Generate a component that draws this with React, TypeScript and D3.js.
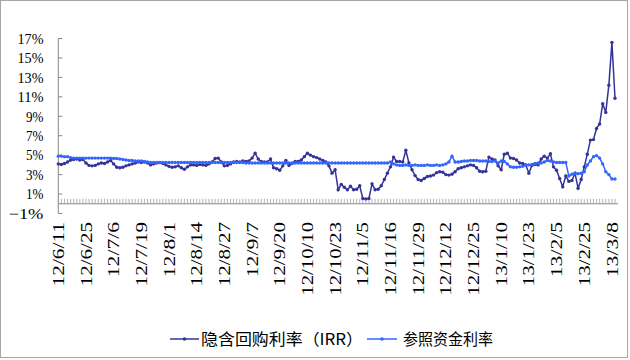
import React from "react";
import * as d3 from "d3";

const tickLabels = ["12/6/11","12/6/25","12/7/6","12/7/19","12/8/1","12/8/14","12/8/27","12/9/7","12/9/20","12/10/10","12/10/23","12/11/5","12/11/16","12/11/29","12/12/12","12/12/25","13/1/10","13/1/23","13/2/5","13/2/25","13/3/8"];
const yTicks = [-1,1,3,5,7,9,11,13,15,17];
const seriesNames = ["隐含回购利率（IRR）","参照资金利率"];

const irr = [
4.1,4.05,4.15,4.3,4.5,4.55,4.6,4.5,4.55,4.2,
3.95,3.9,3.95,4.1,4.2,4.15,4.3,4.45,4.1,3.75,
3.7,3.75,3.9,4.0,4.1,4.2,4.3,4.25,4.3,4.2,
4.0,4.1,4.2,4.25,4.15,4.0,3.85,3.75,3.8,3.9,
3.7,3.55,3.8,4.0,4.0,3.95,4.05,4.0,3.95,4.1,
4.3,4.65,4.7,4.3,3.9,3.95,4.1,4.3,4.35,4.3,
4.4,4.35,4.4,4.7,5.2,4.6,4.35,4.3,4.3,4.6,
3.7,3.6,3.45,3.9,4.45,3.95,4.15,4.35,4.35,4.5,
4.85,5.2,5.0,4.85,4.75,4.6,4.45,4.3,3.9,3.15,
3.5,1.45,2.0,1.7,1.45,1.8,1.45,1.5,1.85,0.55,
0.5,0.55,2.05,1.45,1.5,1.85,2.5,3.15,3.8,4.8,
4.35,4.35,4.3,5.5,4.2,3.5,2.9,2.5,2.4,2.6,
2.8,2.85,2.95,3.2,3.3,3.25,3.0,2.95,3.05,3.3,
3.6,3.7,3.8,3.9,4.0,3.95,3.7,3.35,3.3,3.35,
4.8,4.6,4.5,3.9,3.5,5.1,5.2,4.7,4.65,4.5,
4.2,4.15,4.0,3.15,3.95,4.05,4.0,4.6,4.9,4.7,
5.15,3.8,3.45,2.6,1.75,2.85,2.3,2.4,3.15,1.6,
2.5,3.8,5.1,6.55,6.6,7.75,8.2,10.3,9.4,12.2,
16.6,10.85
];

const ref = [
4.9,4.9,4.85,4.85,4.75,4.7,4.7,4.7,4.7,4.7,
4.7,4.7,4.7,4.7,4.7,4.7,4.7,4.7,4.65,4.65,
4.6,4.55,4.5,4.45,4.45,4.4,4.4,4.4,4.35,4.3,
4.25,4.25,4.25,4.25,4.25,4.25,4.25,4.25,4.25,4.25,
4.25,4.25,4.25,4.25,4.25,4.25,4.25,4.25,4.25,4.25,
4.25,4.25,4.25,4.25,4.25,4.25,4.25,4.25,4.25,4.25,
4.25,4.2,4.2,4.2,4.2,4.2,4.2,4.2,4.2,4.2,
4.2,4.2,4.2,4.2,4.2,4.2,4.2,4.2,4.2,4.2,
4.2,4.2,4.2,4.2,4.2,4.2,4.2,4.2,4.2,4.2,
4.2,4.2,4.2,4.2,4.2,4.2,4.2,4.2,4.2,4.2,
4.2,4.2,4.2,4.2,4.2,4.2,4.2,4.2,4.3,4.1,
4.0,3.95,3.95,4.0,3.95,3.95,4.0,3.95,3.95,3.95,
4.0,3.95,3.95,4.0,3.95,4.0,4.1,4.3,4.9,4.3,
4.3,4.35,4.4,4.4,4.45,4.45,4.45,4.4,4.4,4.4,
4.35,4.35,4.4,4.2,4.4,4.35,4.1,3.8,3.75,3.75,
3.8,3.85,4.0,4.0,4.05,4.15,4.2,4.2,4.3,4.45,
4.4,4.3,4.25,4.25,4.25,4.25,2.85,3.05,3.1,3.1,
3.15,3.3,4.0,4.4,4.85,4.95,4.7,4.1,3.3,3.0,
2.55,2.55
];

const colors = ["#333399", "#3366FF"];

export default function App() {
  const W = 630, H = 360;
  const x = d3.scaleLinear().domain([0, irr.length - 1]).range([58.3, 615]);
  const y = d3.scaleLinear().domain([-1, 17]).range([213.5, 38.5]);
  const y0 = y(0);
  const line = d3.line<number>().x((_, i) => x(i)).y((d) => y(d));
  const series = [irr, ref];
  const axisColor = "#868686";
  const num = "'Liberation Serif', 'DejaVu Serif', serif";
  const cjk = "'Noto Sans CJK SC', sans-serif";
  const fmt = (t: number) => (t < 0 ? "\u2212" + Math.abs(t) : String(t)) + "%";

  return (
    <svg width={W} height={H} style={{ position: "absolute", left: 0, top: 0, background: "#fff" }}>
      <rect x={0.5} y={0.5} width={627} height={357} fill="#fff" stroke="#a6a6a6" />
      {/* y axis */}
      <line x1={x(0)} x2={x(0)} y1={y(-1)} y2={y(17)} stroke={axisColor} />
      {yTicks.map((t) => (
        <g key={t}>
          <line x1={x(0)} x2={x(0) + 4} y1={y(t)} y2={y(t)} stroke={axisColor} />
          <text x={43.5} y={y(t)} dy="0.35em" textAnchor="end" fontFamily={num} fontSize={15}
            textLength={t < 0 ? 35 : t >= 10 ? 26 : 17.5} lengthAdjust="spacingAndGlyphs">{fmt(t)}</text>
        </g>
      ))}
      {/* x axis */}
      <line x1={x(0)} x2={x(irr.length - 1) + 3} y1={y0} y2={y0} stroke={axisColor} />
      {irr.map((_, i) => (
        <line key={i} x1={x(i)} x2={x(i)} y1={y0} y2={y0 - 5} stroke="#a0a0a0" strokeWidth={0.8} />
      ))}
      {tickLabels.map((lab, k) => (
        <text key={lab} transform={`translate(${x(k * 9)},222) rotate(-90)`} textAnchor="end" dy="0.35em"
          fontFamily={num} fontSize={16} textLength={lab.length * 9.2} lengthAdjust="spacingAndGlyphs">{lab}</text>
      ))}
      {/* series */}
      {series.map((s, si) => (
        <g key={si}>
          <path d={line(s) || ""} fill="none" stroke={colors[si]} strokeWidth={1.5} />
          {s.map((v, i) => (
            <circle key={i} cx={x(i)} cy={y(v)} r={1.7} fill={colors[si]} />
          ))}
        </g>
      ))}
      {/* legend */}
      <g>
        <line x1={170} x2={199} y1={339} y2={339} stroke={colors[0]} strokeWidth={1.5} />
        <circle cx={184.5} cy={339} r={1.8} fill={colors[0]} />
        <text x={201} y={339} dy="0.36em" fontFamily={cjk} fontSize={16} textLength={162} lengthAdjust="spacingAndGlyphs">{seriesNames[0]}</text>
        <line x1={367} x2={397} y1={339} y2={339} stroke={colors[1]} strokeWidth={1.5} />
        <circle cx={382} cy={339} r={1.8} fill={colors[1]} />
        <text x={403} y={339} dy="0.36em" fontFamily={cjk} fontSize={16} textLength={90} lengthAdjust="spacingAndGlyphs">{seriesNames[1]}</text>
      </g>
    </svg>
  );
}
